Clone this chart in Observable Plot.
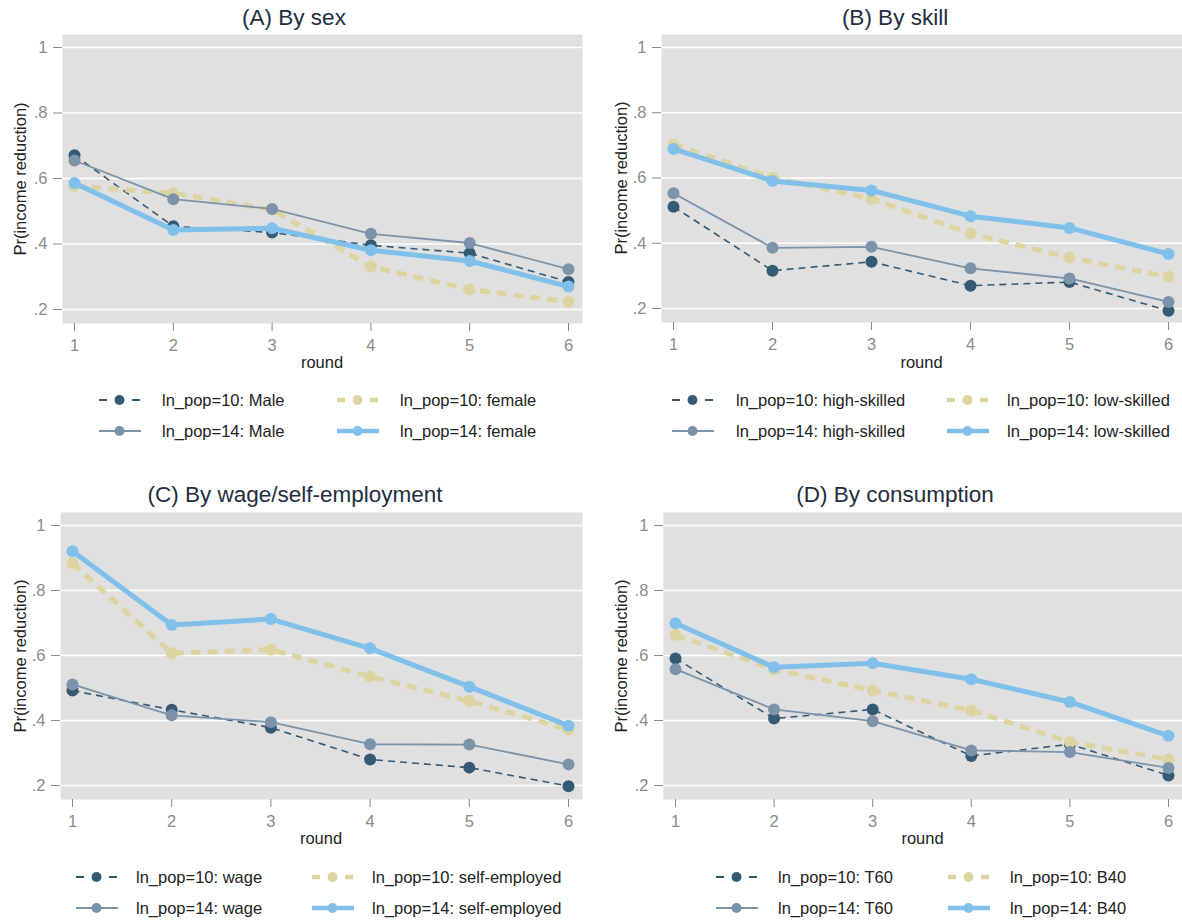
<!DOCTYPE html>
<html>
<head>
<meta charset="utf-8">
<script src="https://cdn.jsdelivr.net/npm/d3@7"></script>
<script src="https://cdn.jsdelivr.net/npm/@observablehq/plot@0.6"></script>
<style>
  body { margin: 0; background: #fff; font-family: "Liberation Sans", Arial, sans-serif; }
  #root { position: relative; width: 1182px; height: 923px; overflow: hidden; background: #fff; }
  .abs { position: absolute; }
  .title { font-size: 22.5px; color: #1f2e3e; white-space: nowrap; transform: translate(-50%, -50%); }
  .ylab { font-size: 16.5px; color: #222; white-space: nowrap; transform: translate(-50%, -50%) rotate(-90deg); }
  .xlab { font-size: 16.5px; color: #222; white-space: nowrap; transform: translate(-50%, -50%); }
  .legtext { font-size: 16.5px; color: #222; white-space: nowrap; transform: translateY(-50%); }
  .legsym { transform: translateY(-50%); }
  svg { overflow: visible; }
</style>
</head>
<body>
<div id="root"></div>
<script>
// ---------------- data ----------------
const rounds = [1, 2, 3, 4, 5, 6];
const yTicks = [0.2, 0.4, 0.6, 0.8, 1];
const yTickLabels = [".2", ".4", ".6", ".8", "1"];
const xTickLabels = ["1", "2", "3", "4", "5", "6"];
const panelTitles = ["(A) By sex", "(B) By skill", "(C) By wage/self-employment", "(D) By consumption"];
const yAxisTitle = "Pr(income reduction)";
const xAxisTitle = "round";

// legend labels (order: ln_pop=10 g1, ln_pop=10 g2, ln_pop=14 g1, ln_pop=14 g2)
const sexLabels = ["ln_pop=10: Male", "ln_pop=10: female", "ln_pop=14: Male", "ln_pop=14: female"];
const skillLabels = ["ln_pop=10: high-skilled", "ln_pop=10: low-skilled", "ln_pop=14: high-skilled", "ln_pop=14: low-skilled"];
const empLabels = ["ln_pop=10: wage", "ln_pop=10: self-employed", "ln_pop=14: wage", "ln_pop=14: self-employed"];
const consLabels = ["ln_pop=10: T60", "ln_pop=10: B40", "ln_pop=14: T60", "ln_pop=14: B40"];

// (A) By sex
const sexMale10   = [0.671, 0.454, 0.435, 0.396, 0.372, 0.284];
const sexFemale10 = [0.577, 0.555, 0.505, 0.331, 0.261, 0.224];
const sexMale14   = [0.655, 0.537, 0.507, 0.431, 0.403, 0.323];
const sexFemale14 = [0.586, 0.443, 0.448, 0.381, 0.348, 0.270];
// (B) By skill
const skillHigh10 = [0.512, 0.316, 0.343, 0.270, 0.281, 0.193];
const skillLow10  = [0.703, 0.601, 0.536, 0.430, 0.356, 0.297];
const skillHigh14 = [0.553, 0.386, 0.389, 0.323, 0.292, 0.220];
const skillLow14  = [0.689, 0.591, 0.562, 0.483, 0.447, 0.367];
// (C) By wage/self-employment
const empWage10 = [0.492, 0.433, 0.378, 0.280, 0.255, 0.198];
const empSelf10 = [0.884, 0.607, 0.618, 0.535, 0.460, 0.372];
const empWage14 = [0.511, 0.416, 0.395, 0.327, 0.326, 0.265];
const empSelf14 = [0.921, 0.694, 0.712, 0.622, 0.504, 0.384];
// (D) By consumption
const consT60_10 = [0.591, 0.406, 0.434, 0.291, 0.327, 0.231];
const consB40_10 = [0.663, 0.557, 0.492, 0.431, 0.334, 0.280];
const consT60_14 = [0.558, 0.434, 0.398, 0.308, 0.303, 0.254];
const consB40_14 = [0.699, 0.564, 0.576, 0.527, 0.457, 0.353];

// ---------------- styles ----------------
const seriesStyles = [
  { stroke: "#365a74", width: 1.6, dash: "7,5", r: 6 },     // ln_pop=10 g1
  { stroke: "#dcd5a2", width: 5,   dash: "10,7", r: 6 },    // ln_pop=10 g2
  { stroke: "#7d93a9", width: 1.8, dash: null,  r: 6 },     // ln_pop=14 g1
  { stroke: "#80c0ea", width: 5,   dash: null,  r: 6 }      // ln_pop=14 g2
];

const panels = [
  { title: panelTitles[0], series: [sexMale10, sexFemale10, sexMale14, sexFemale14], labels: sexLabels,
    left: 0, top: 0, width: 590, mL: 62, mR: 8, plotH: 289, titleX: 294, titleY: 18, ylabX: 20, xlabY: 362,
    legRows: [400, 431], legCols: [[99, 162], [337, 400]] },
  { title: panelTitles[1], series: [skillHigh10, skillLow10, skillHigh14, skillLow14], labels: skillLabels,
    left: 590, top: 0, width: 592, mL: 71, mR: 0, plotH: 288, titleX: 895, titleY: 18, ylabX: 621, xlabY: 362,
    legRows: [400, 431], legCols: [[672, 736], [947, 1007]] },
  { title: panelTitles[2], series: [empWage10, empSelf10, empWage14, empSelf14], labels: empLabels,
    left: 0, top: 478, width: 590, mL: 60, mR: 8, plotH: 287, titleX: 295, titleY: 495, ylabX: 20, xlabY: 838,
    legRows: [877, 908], legCols: [[76, 136], [312, 372]] },
  { title: panelTitles[3], series: [consT60_10, consB40_10, consT60_14, consB40_14], labels: consLabels,
    left: 590, top: 478, width: 592, mL: 73, mR: 0, plotH: 287, titleX: 895, titleY: 495, ylabX: 621, xlabY: 838,
    legRows: [877, 908], legCols: [[716, 778], [948, 1010]] }
];

const root = document.getElementById("root");
const mTop = 34, mBottom = 40;

function addDiv(cls, text, x, y) {
  const d = document.createElement("div");
  d.className = "abs " + cls;
  d.textContent = text;
  d.style.left = x + "px";
  d.style.top = y + "px";
  root.appendChild(d);
  return d;
}

function legendSymbol(st, x, y) {
  const ns = "http://www.w3.org/2000/svg";
  const svg = document.createElementNS(ns, "svg");
  svg.setAttribute("width", 42);
  svg.setAttribute("height", 14);
  svg.setAttribute("class", "abs legsym");
  svg.style.left = x + "px";
  svg.style.top = y + "px";
  const segs = st.dash ? [[0, 8], [33, 41]] : [[0, 42]];
  for (const [a, b] of segs) {
    const l = document.createElementNS(ns, "line");
    l.setAttribute("x1", a); l.setAttribute("x2", b);
    l.setAttribute("y1", 7); l.setAttribute("y2", 7);
    l.setAttribute("stroke", st.stroke);
    l.setAttribute("stroke-width", st.width === 5 ? 4.5 : 2);
    svg.appendChild(l);
  }
  const c = document.createElementNS(ns, "circle");
  c.setAttribute("cx", 20.5); c.setAttribute("cy", 7); c.setAttribute("r", 5);
  c.setAttribute("fill", st.stroke);
  svg.appendChild(c);
  root.appendChild(svg);
}

for (const p of panels) {
  const tables = p.series.map(vals => rounds.map((r, i) => ({ round: r, v: vals[i] })));
  const marks = [
    Plot.frame({ fill: "#e0e0e0", stroke: null }),
    Plot.gridY(yTicks, { stroke: "#ffffff", strokeOpacity: 1, strokeWidth: 1.6 }),
    Plot.axisY(yTicks, {
      tickFormat: d => yTickLabels[yTicks.indexOf(d)],
      tickSize: 9, tickPadding: 6, label: null, color: "#8a8a8a", fontSize: 16.5
    }),
    Plot.axisX(rounds, {
      tickFormat: d => xTickLabels[rounds.indexOf(d)],
      tickSize: 8, tickPadding: 8, label: null, color: "#8a8a8a", fontSize: 16.5
    })
  ];
  tables.forEach((t, k) => {
    const st = seriesStyles[k];
    marks.push(Plot.line(t, {
      x: "round", y: "v", stroke: st.stroke, strokeWidth: st.width,
      strokeDasharray: st.dash || undefined, strokeLinecap: "butt", strokeLinejoin: "round"
    }));
    marks.push(Plot.dot(t, { x: "round", y: "v", r: st.r, fill: st.stroke, stroke: null }));
  });

  const chart = Plot.plot({
    width: p.width,
    height: mTop + p.plotH + mBottom,
    marginLeft: p.mL, marginRight: p.mR, marginTop: mTop, marginBottom: mBottom,
    insetLeft: 12, insetRight: 14, insetTop: 13, insetBottom: 14,
    x: { domain: [1, 6] },
    y: { domain: [0.2, 1] },
    style: { fontFamily: '"Liberation Sans", Arial, sans-serif', fontSize: "16.5px", background: "transparent", overflow: "visible" },
    marks
  });
  chart.style.position = "absolute";
  chart.style.left = p.left + "px";
  chart.style.top = p.top + "px";
  root.appendChild(chart);

  const plotCenterX = p.left + p.mL + (p.width - p.mL - p.mR) / 2;
  const plotCenterY = p.top + mTop + p.plotH / 2;
  addDiv("title", p.title, p.titleX, p.titleY);
  addDiv("ylab", yAxisTitle, p.ylabX, plotCenterY);
  addDiv("xlab", xAxisTitle, plotCenterX, p.xlabY);

  // legend: row-wise, 2 columns
  p.labels.forEach((lab, k) => {
    const row = Math.floor(k / 2), col = k % 2;
    const [sx, tx] = p.legCols[col];
    const y = p.legRows[row];
    legendSymbol(seriesStyles[k], sx, y);
    addDiv("legtext", lab, tx, y);
  });
}
</script>
</body>
</html>
